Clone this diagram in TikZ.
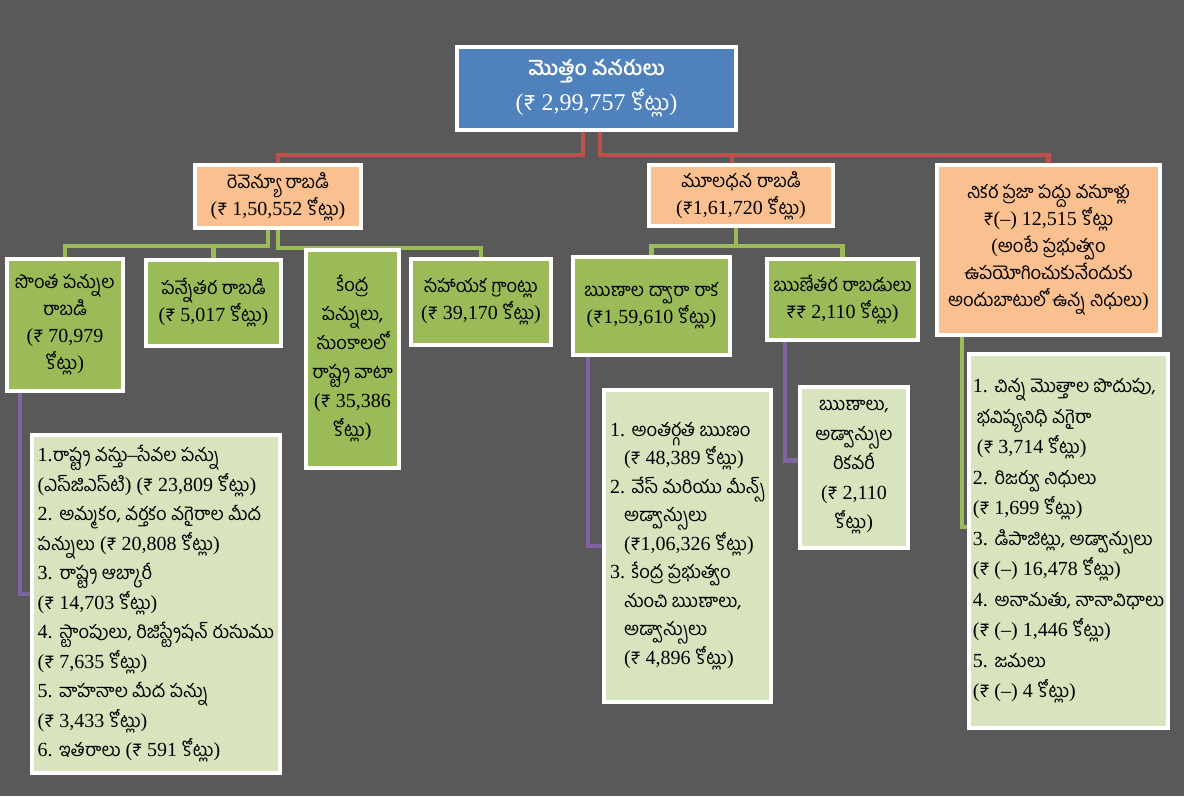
\documentclass[tikz,border=0pt]{standalone}
\usepackage{fontspec}
\setmainfont{Liberation Serif}
\newfontfamily\telfont[Script=Telugu,Scale=0.92]{Hind Guntur}
\newcommand\tel[1]{{\telfont #1}}
\newcommand\rs{{\telfont ₹}}
\usetikzlibrary{positioning}
\usetikzlibrary{backgrounds}
\definecolor{bgc}{HTML}{595959}
\definecolor{topc}{HTML}{4F81BD}
\definecolor{sumc}{HTML}{FAC090}
\definecolor{itemc}{HTML}{9BBB59}
\definecolor{listc}{HTML}{D7E4BD}
\definecolor{redc}{HTML}{C0504D}
\definecolor{violetc}{HTML}{8064A2}

\begin{document}
\begin{tikzpicture}[x=1pt,y=-1pt,
  box/.style={draw=white,line width=4pt,inner sep=4pt,align=center,
    font=\fontsize{20}{27}\selectfont},
  topbox/.style={box,fill=topc,text=white,
    font=\fontsize{24}{35}\selectfont},
  sumbox/.style={box,fill=sumc},
  itembox/.style={box,fill=itemc},
  listbox/.style={box,fill=listc,align=left,inner sep=3pt,
    font=\fontsize{20}{29.5}\selectfont},
  redline/.style={draw=redc,line width=4.5pt},
  greenline/.style={draw=itemc,line width=4.5pt},
  violetline/.style={draw=violetc,line width=4.5pt}]
\lineskiplimit=-30pt

% top
\node[topbox,minimum width=279pt,minimum height=83pt] (tot) at (596.5,88.5)
  {\tel{\fontsize{22}{35}\selectfont\bfseries మొత్తం వనరులు}\\(\rs{} 2,99,757 \tel{కోట్లు})};

% second row
\node[sumbox,minimum width=166pt,minimum height=63pt] (rev) at (278,196.5)
  {\tel{రెవెన్యూ రాబడి}\\(\rs{} 1,50,552 \tel{కోట్లు})};
\node[sumbox,minimum width=184pt,minimum height=61pt] (cap) at (741,195.5)
  {\tel{మూలధన రాబడి}\\(\rs1,61,720 \tel{కోట్లు})};
\node[sumbox,minimum width=223pt,minimum height=170pt] (net) at (1048.5,250)
  {\tel{నికర ప్రజా పద్దు వసూళ్లు}\\\rs(–) 12,515 \tel{కోట్లు}\\(\tel{అంటే ప్రభుత్వం}\\
   \tel{ఉపయోగించుకునేందుకు}\\\tel{అందుబాటులో ఉన్న నిధులు})};

% third row
\node[itembox,minimum width=116pt,minimum height=132pt] (own) at (65,325)
  {\tel{సొంత పన్నుల}\\\tel{రాబడి}\\(\rs{} 70,979\\\tel{కోట్లు})};
\node[itembox,minimum width=135pt,minimum height=86pt] (ntax) at (213.5,303)
  {\tel{పన్నేతర రాబడి}\\(\rs{} 5,017 \tel{కోట్లు})};
\node[itembox,minimum width=93pt,minimum height=218pt,
  font=\fontsize{20}{29}\selectfont] (cshare) at (352.5,359)
  {\tel{కేంద్ర}\\\tel{పన్నులు,}\\\tel{సుంకాలలో}\\\tel{రాష్ట్ర వాటా}\\(\rs{} 35,386\\\tel{కోట్లు})};
\node[itembox,minimum width=140pt,minimum height=86pt] (grant) at (481,302)
  {\tel{సహాయక గ్రాంట్లు}\\(\rs{} 39,170 \tel{కోట్లు})};
\node[itembox,minimum width=157pt,minimum height=98pt] (loan) at (651.5,306)
  {\tel{ఋణాల ద్వారా రాక}\\(\rs1,59,610 \tel{కోట్లు})};
\node[itembox,minimum width=151pt,minimum height=81pt] (nloan) at (842.5,299.5)
  {\tel{ఋణేతర రాబడులు}\\\rs\rs{} 2,110 \tel{కోట్లు})};

% lists
\node[listbox,minimum width=248pt,minimum height=338pt] (ownl) at (156,604)
  {1.\tel{రాష్ట్ర వస్తు}–\tel{సేవల పన్ను}\\
   (\tel{ఎస్‌జిఎస్‌టి}) (\rs{} 23,809 \tel{కోట్లు})\\
   2. \tel{అమ్మకం, వర్తకం వగైరాల మీద}\\
   \tel{పన్నులు} (\rs{} 20,808 \tel{కోట్లు})\\
   3. \tel{రాష్ట్ర ఆబ్కారీ}\\
   (\rs{} 14,703 \tel{కోట్లు})\\
   4. \tel{స్టాంపులు, రిజిస్ట్రేషన్ రుసుము}\\
   (\rs{} 7,635 \tel{కోట్లు})\\
   5. \tel{వాహనాల మీద పన్ను}\\
   (\rs{} 3,433 \tel{కోట్లు})\\
   6. \tel{ఇతరాలు} (\rs{} 591 \tel{కోట్లు})};
\node[listbox,minimum width=167pt,minimum height=312pt,
  font=\fontsize{20}{28.5}\selectfont] (loanl) at (687.5,546)
  {1. \tel{అంతర్గత ఋణం}\\
   \hspace*{14pt}(\rs{} 48,389 \tel{కోట్లు})\\
   2. \tel{వేస్ మరియు మీన్స్}\\
   \hspace*{14pt}\tel{అడ్వాన్సులు}\\
   \hspace*{14pt}(\rs1,06,326 \tel{కోట్లు})\\
   3. \tel{కేంద్ర ప్రభుత్వం}\\
   \hspace*{14pt}\tel{నుంచి ఋణాలు,}\\
   \hspace*{14pt}\tel{అడ్వాన్సులు}\\
   \hspace*{14pt}(\rs{} 4,896 \tel{కోట్లు})};
\node[listbox,align=center,minimum width=108pt,minimum height=161pt] (recov) at (854,467.5)
  {\tel{ఋణాలు,}\\\tel{అడ్వాన్సుల}\\\tel{రికవరీ}\\(\rs{} 2,110\\\tel{కోట్లు})};
\node[listbox,minimum width=199pt,minimum height=374pt,
  font=\fontsize{20}{30.5}\selectfont] (netl) at (1068.5,541)
  {1. \tel{చిన్న మొత్తాల పొదుపు,}\\
   \hspace*{4pt}\tel{భవిష్యనిధి వగైరా}\\
   \hspace*{4pt}(\rs{} 3,714 \tel{కోట్లు})\\
   2. \tel{రిజర్వు నిధులు}\\
   (\rs{} 1,699 \tel{కోట్లు})\\
   3. \tel{డిపాజిట్లు, అడ్వాన్సులు}\\
   (\rs{} (–) 16,478 \tel{కోట్లు})\\
   4. \tel{అనామతు, నానావిధాలు}\\
   (\rs{} (–) 1,446 \tel{కోట్లు})\\
   5. \tel{జమలు}\\
   (\rs{} (–) 4 \tel{కోట్లు})};

\begin{scope}[on background layer]
\fill[bgc] (0,0) rectangle (1184,796);
% red connectors
\draw[redline] ([xshift=-13.5pt]tot.south) -- ++(0,23) -| (rev.north);
\draw[redline] ([xshift=3.5pt]tot.south) -- ++(0,23) -| ([xshift=-9pt]cap.north);
\draw[redline] ([xshift=3.5pt]tot.south) -- ++(0,23) -| (net.north);
% green connectors
\draw[greenline] ([xshift=-10pt]rev.south) -- ++(0,16) -| (own.north);
\draw[greenline] ([xshift=-10pt]rev.south) -- ++(0,16) -| (ntax.north);
\draw[greenline] (rev.south) -- ++(0,18) -| (cshare.north);
\draw[greenline] (rev.south) -- ++(0,18) -| (grant.north);
\draw[greenline] ([xshift=-5pt]cap.south) -- ++(0,18) -| (loan.north);
\draw[greenline] ([xshift=-5pt]cap.south) -- ++(0,18) -| (nloan.north);
\draw[greenline] ([xshift=27pt]net.south west) |- ([yshift=14pt]netl.west);
% violet connectors
\draw[violetline] ([xshift=15pt]own.south west) |- ([yshift=10pt]ownl.west);
\draw[violetline] ([xshift=17pt]loan.south west) |- (loanl.west);
\draw[violetline] ([xshift=20pt]nloan.south west) |- ([yshift=7pt]recov.west);
\end{scope}
\end{tikzpicture}
\end{document}
